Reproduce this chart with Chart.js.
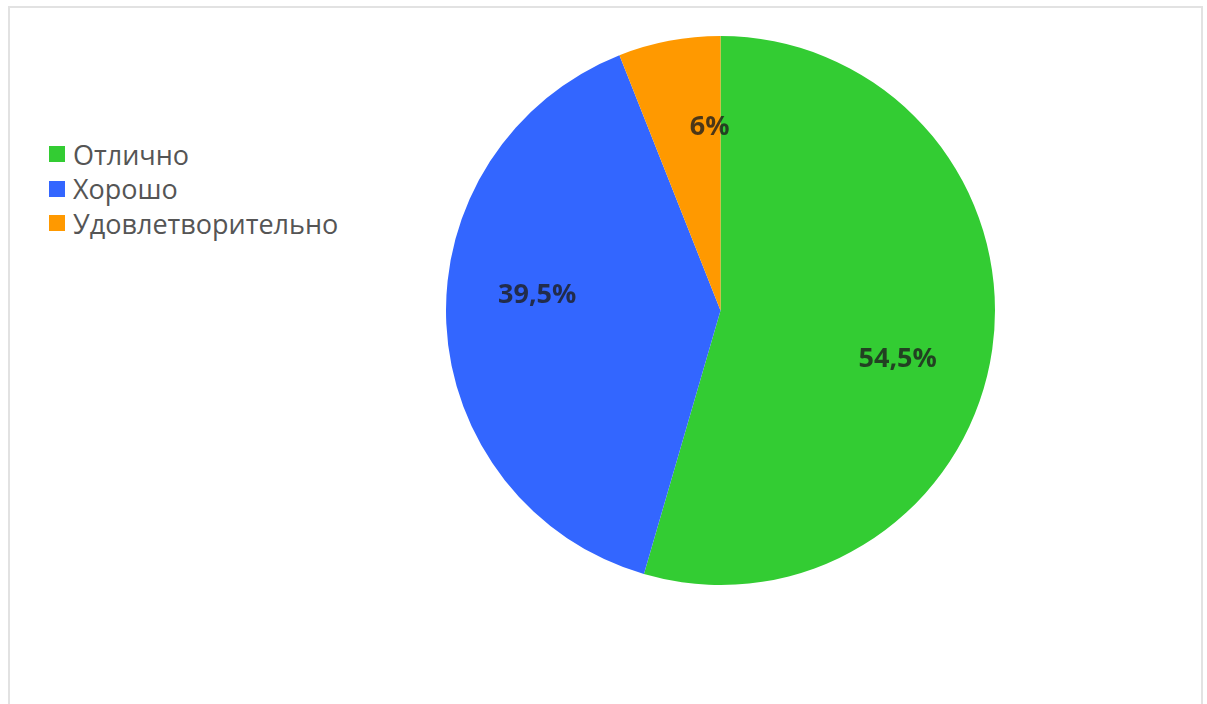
<!DOCTYPE html>
<html lang="ru">
<head>
<meta charset="utf-8">
<title>Оценки</title>
<script src="https://cdn.jsdelivr.net/npm/chart.js@4/dist/chart.umd.min.js"></script>
<style>
  html, body { margin: 0; padding: 0; background: #fff; }
  body { width: 1207px; height: 704px; position: relative; overflow: hidden; font-family: 'Open Sans', sans-serif; }
  .frame { position: absolute; left: 8px; top: 6px; width: 1195px; height: 702px; border: 2px solid #e2e2e2; box-sizing: border-box; }
  .legend { position: absolute; left: 49px; top: 137px; margin: 0; padding: 0; list-style: none; }
  .legend li { display: flex; align-items: center; height: 34.5px; font-size: 27px; color: #555; }
  .legend i { display: inline-block; width: 16px; height: 16px; margin-right: 8px; }
  .pie-box { position: absolute; left: 446px; top: 36px; width: 549px; height: 549px; }
</style>
</head>
<body>
<div class="frame"></div>
<ul class="legend" id="legend"></ul>
<div class="pie-box"><canvas id="pie"></canvas></div>
<script>
  const labels = ['Отлично', 'Хорошо', 'Удовлетворительно'];
  const shares = [54.5, 39.5, 6];
  const valueText = ['54,5%', '39,5%', '6%'];
  const colors = ['#33CC33', '#3366FF', '#FF9900'];

  // legend as plain html, it sits higher than the chart's own left legend would
  document.getElementById('legend').innerHTML = labels
    .map((l, i) => `<li><i style="background:${colors[i]}"></i>${l}</li>`)
    .join('');

  // percent labels, a little clockwise of each slice's bisector like the original
  const sliceLabels = {
    id: 'sliceLabels',
    afterDatasetsDraw(chart) {
      const ctx = chart.ctx;
      const arcs = chart.getDatasetMeta(0).data;
      ctx.save();
      ctx.font = 'bold 27px "Open Sans", sans-serif';
      ctx.fillStyle = 'rgba(30, 30, 30, 0.8)';
      ctx.textAlign = 'center';
      ctx.textBaseline = 'middle';
      arcs.forEach((arc, i) => {
        const p = arc.getProps(['x', 'y', 'startAngle', 'endAngle', 'outerRadius'], true);
        const mid = (p.startAngle + p.endAngle) / 2 + 0.13;
        const r = p.outerRadius * 0.67;
        ctx.fillText(valueText[i], p.x + Math.cos(mid) * r, p.y + Math.sin(mid) * r);
      });
      ctx.restore();
    }
  };

  new Chart(document.getElementById('pie'), {
    type: 'pie',
    data: {
      labels: labels,
      datasets: [{ data: shares, backgroundColor: colors, borderWidth: 0 }]
    },
    options: {
      responsive: true,
      maintainAspectRatio: false,
      animation: false,
      layout: { padding: 0 },
      plugins: { legend: { display: false }, tooltip: { enabled: false } }
    },
    plugins: [sliceLabels]
  });
</script>
</body>
</html>
